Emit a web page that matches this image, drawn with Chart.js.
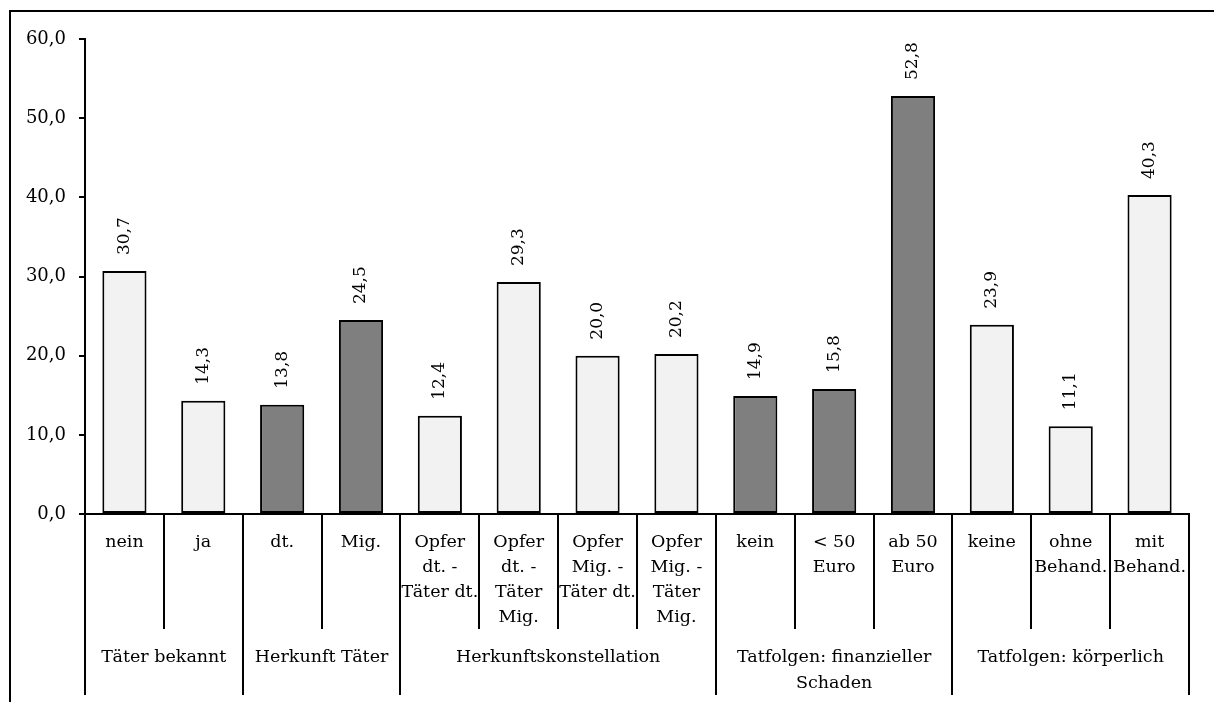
<!DOCTYPE html>
<html>
<head>
<meta charset="utf-8">
<script src="https://cdn.jsdelivr.net/npm/chart.js@4/dist/chart.umd.min.js"></script>
<style>
  html, body { margin: 0; padding: 0; background: #fff; }
  #wrap { width: 1214px; height: 702px; }
</style>
</head>
<body>
<div id="wrap"><canvas id="chart" width="1214" height="702"></canvas></div>
<script>
const categories = [
  'nein', 'ja', 'dt.', 'Mig.',
  ['Opfer', 'dt. -', 'Täter dt.'],
  ['Opfer', 'dt. -', 'Täter', 'Mig.'],
  ['Opfer', 'Mig. -', 'Täter dt.'],
  ['Opfer', 'Mig. -', 'Täter', 'Mig.'],
  'kein', ['< 50', 'Euro'], ['ab 50', 'Euro'],
  'keine', ['ohne', 'Behand.'], ['mit', 'Behand.']
];
const values = [30.7, 14.3, 13.8, 24.5, 12.4, 29.3, 20.0, 20.2, 14.9, 15.8, 52.8, 23.9, 11.1, 40.3];
const dark = [false, false, true, true, false, false, false, false, true, true, true, false, false, false];
const groupLabels = [
  ['Täter bekannt'],
  ['Herkunft Täter'],
  ['Herkunftskonstellation'],
  ['Tatfolgen: finanzieller', 'Schaden'],
  ['Tatfolgen: körperlich']
];
const groupSizes = [2, 2, 4, 3, 3];
const yTicks = [0, 10, 20, 30, 40, 50, 60];

const serif = '"DejaVu Serif", serif';
const fmt = v => v.toFixed(1).replace('.', ',');

const axisLabels = {
  id: 'axisLabels',
  beforeDraw(chart) {
    const ctx = chart.ctx;
    ctx.save();
    ctx.strokeStyle = '#000';
    ctx.lineWidth = 2;
    ctx.strokeRect(10, 11, 1400, 900);
    ctx.restore();
  },
  afterDatasetsDraw(chart) {
    const ctx = chart.ctx;
    const meta = chart.getDatasetMeta(0);
    ctx.save();
    ctx.fillStyle = '#000';
    ctx.font = '17px ' + serif;
    ctx.textAlign = 'left';
    ctx.textBaseline = 'middle';
    meta.data.forEach((bar, i) => {
      ctx.save();
      ctx.translate(bar.x, bar.y - 16);
      ctx.rotate(-Math.PI / 2);
      ctx.fillText(fmt(values[i]), 0, 0);
      ctx.restore();
    });
    ctx.restore();
  },
  afterDraw(chart) {
    const ctx = chart.ctx;
    const x = chart.scales.x;
    const bottom = chart.chartArea.bottom;
    const step = x.width / categories.length;
    const edge = i => x.getPixelForValue(0) - step / 2 + i * step;

    const groupEdges = [0];
    groupSizes.forEach(s => groupEdges.push(groupEdges[groupEdges.length - 1] + s));

    ctx.save();
    ctx.strokeStyle = '#000';
    ctx.lineWidth = 2;
    for (let i = 0; i <= categories.length; i++) {
      const len = groupEdges.includes(i) ? 181 : 115;
      const px = Math.round(edge(i));
      ctx.beginPath();
      ctx.moveTo(px, bottom);
      ctx.lineTo(px, bottom + len);
      ctx.stroke();
    }

    ctx.fillStyle = '#000';
    ctx.font = '17.5px ' + serif;
    ctx.textAlign = 'center';
    ctx.textBaseline = 'middle';
    categories.forEach((lab, i) => {
      const lines = Array.isArray(lab) ? lab : [lab];
      const cx = x.getPixelForValue(i);
      lines.forEach((t, k) => ctx.fillText(t, cx, bottom + 28 + k * 25));
    });

    groupLabels.forEach((lines, g) => {
      const cx = (edge(groupEdges[g]) + edge(groupEdges[g + 1])) / 2;
      lines.forEach((t, k) => ctx.fillText(t, cx, bottom + 143 + k * 26));
    });
    ctx.restore();
  }
};

new Chart(document.getElementById('chart'), {
  type: 'bar',
  data: {
    labels: categories.map(c => Array.isArray(c) ? c.join(' ') : c),
    datasets: [{
      data: values,
      backgroundColor: dark.map(d => d ? '#7f7f7f' : '#f2f2f2'),
      borderColor: '#000',
      borderWidth: 2,
      borderSkipped: false,
      barPercentage: 0.56,
      categoryPercentage: 1
    }]
  },
  options: {
    responsive: false,
    animation: false,
    layout: { padding: { left: 0, top: 39, right: 25, bottom: 188 } },
    plugins: { legend: { display: false }, tooltip: { enabled: false } },
    scales: {
      x: {
        ticks: { display: false },
        grid: { display: false },
        border: { display: true, color: '#000', width: 2 },
        afterFit(scale) { scale.height = 0; }
      },
      y: {
        min: 0,
        max: 60,
        afterBuildTicks(scale) { scale.ticks = yTicks.map(v => ({ value: v })); },
        ticks: {
          color: '#000',
          padding: 13,
          font: { family: serif, size: 18 },
          callback: v => fmt(v)
        },
        grid: { drawOnChartArea: false, drawTicks: true, tickLength: 6, color: '#000', lineWidth: 2 },
        border: { display: true, color: '#000', width: 2 },
        afterFit(scale) { scale.width = 85; }
      }
    }
  },
  plugins: [axisLabels]
});
</script>
</body>
</html>
